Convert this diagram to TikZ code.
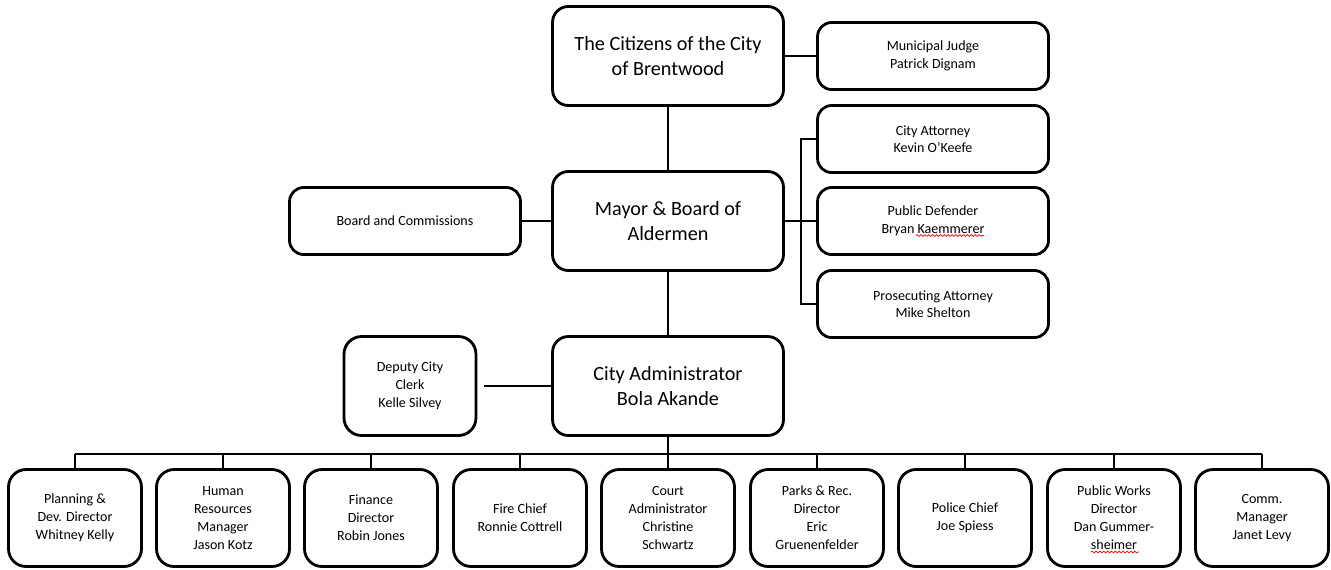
\documentclass[tikz,border=0pt]{standalone}
\usepackage{fontspec}
\setmainfont{Carlito}
\usetikzlibrary{calc,decorations.pathmorphing}

\tikzstyle{head} = [draw, line width=1.6pt, rounded corners=9pt, minimum width=4.62cm, minimum height=1.98cm, align=center, font=\fontsize{11.5}{14.1}\selectfont]
\tikzstyle{aide} = [draw, line width=1.6pt, rounded corners=8pt, minimum width=4.62cm, minimum height=1.34cm, align=center, font=\fontsize{8}{10}\selectfont]
\tikzstyle{dept} = [draw, line width=1.6pt, rounded corners=10pt, minimum width=2.66cm, minimum height=1.94cm, align=center, font=\fontsize{8}{10.2}\selectfont]
\tikzstyle{link} = [line width=0.6pt]
\tikzstyle{typo} = [red, line width=0.4pt, decorate, decoration={snake, amplitude=0.5pt, segment length=2.2pt}]

\begin{document}
\begin{tikzpicture}[x=0.02cm, y=-0.02cm]
\useasboundingbox (0,0) rectangle (1331,569);

% top of the chart
\node[head] (citizens) at (668,56) {The Citizens of the City\\of Brentwood};
\node[aide] (judge) at (933,56) {Municipal Judge\\Patrick Dignam};
\node[head] (mayor) at (668,221) {Mayor \& Board of\\Aldermen};
\node[aide] (boards) at (405,221) {Board and Commissions};
\node[aide] (attorney) at (933,139) {City Attorney\\Kevin O’Keefe};
\node[aide] (defender) at (933,221) {Public Defender\\Bryan Kaemmerer};
\node[aide] (prosecutor) at (933,304) {Prosecuting Attorney\\Mike Shelton};
\node[head] (admin) at (668,386) {City Administrator\\Bola Akande};
\node[dept, minimum width=2.64cm, minimum height=1.98cm] (clerk) at (410,386) {Deputy City\\Clerk\\Kelle Silvey};

% departments
\node[dept] (planning) at (75,518) {Planning \&\\Dev. Director\\Whitney Kelly};
\node[dept] (hr) at (223,518) {Human\\Resources\\Manager\\Jason Kotz};
\node[dept] (finance) at (371,518) {Finance\\Director\\Robin Jones};
\node[dept] (fire) at (520,518) {Fire Chief\\Ronnie Cottrell};
\node[dept] (court) at (668,518) {Court\\Administrator\\Christine\\Schwartz};
\node[dept] (parks) at (817,518) {Parks \& Rec.\\Director\\Eric\\Gruenenfelder};
\node[dept] (police) at (965,518) {Police Chief\\Joe Spiess};
\node[dept] (works) at (1114,518) {Public Works\\Director\\Dan Gummer-\\sheimer};
\node[dept] (comm) at (1262,518) {Comm.\\Manager\\Janet Levy};

% spell-check marks
\draw[typo] ($(defender.center)+(-17,14.5)$) -- ++(68,0);
\draw[typo] ($(works.center)+(-23,34)$) -- ++(48,0);

\coordinate (bracket) at (801,221);
\coordinate (bus) at (668,454);

% connectors
\draw[link] (citizens.east) -- (judge.west);
\draw[link] (citizens.south) -- (mayor.north);
\draw[link] (boards.east) -- (mayor.west);
\draw[link] (mayor.east) -- (defender.west);
\draw[link] (attorney.west) -- (attorney.west -| bracket) -- (prosecutor.west -| bracket) -- (prosecutor.west);
\draw[link] (mayor.south) -- (admin.north);
\draw[link] (clerk.east) ++(7,0) -- (admin.west);
\draw[link] (admin.south) -- (bus);
\draw[link] (planning.north |- bus) -- (comm.north |- bus);
\foreach \d in {planning,hr,finance,fire,court,parks,police,works,comm}
    \draw[link] (\d.north) -- (\d.north |- bus);
\end{tikzpicture}
\end{document}
